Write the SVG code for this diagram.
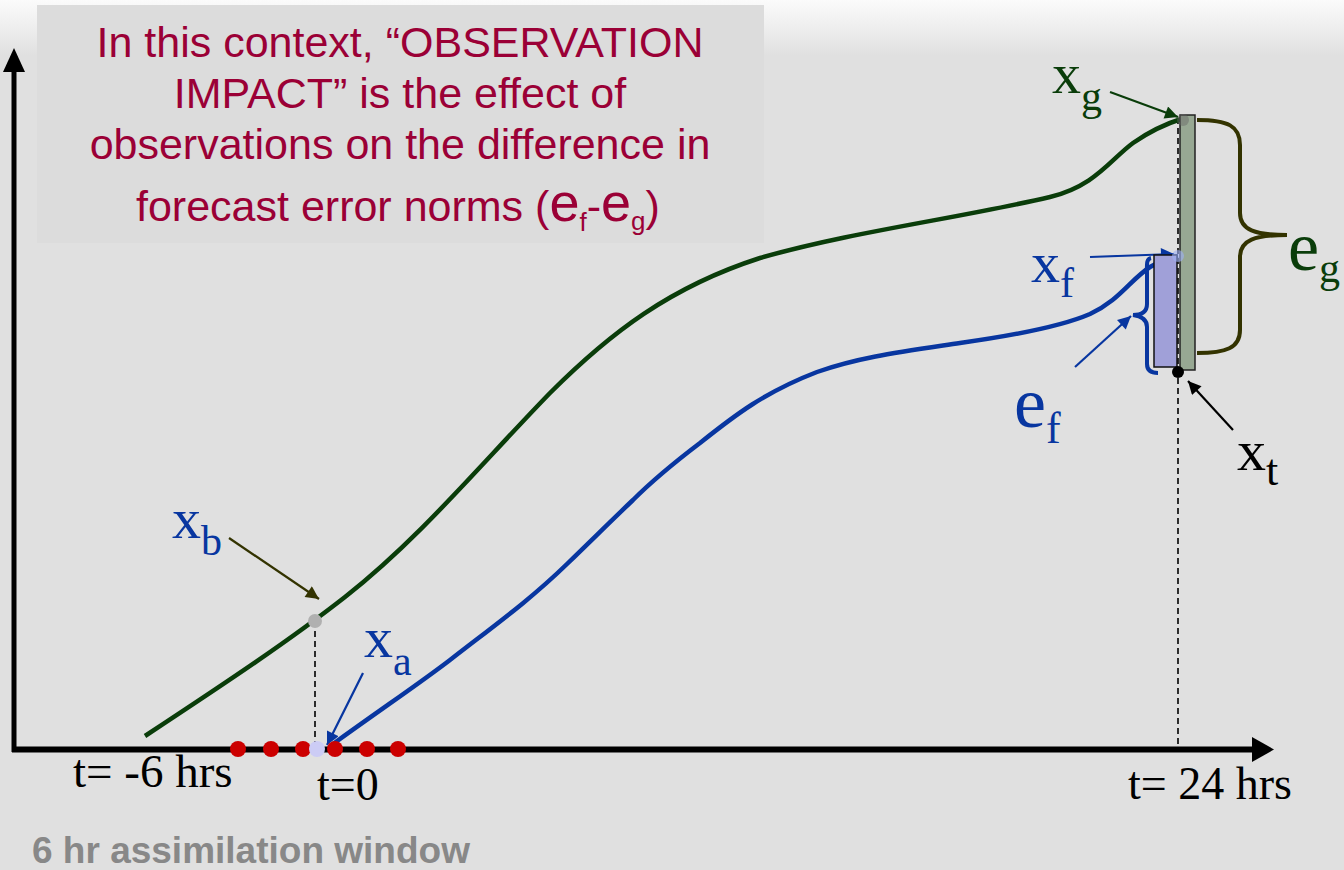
<svg xmlns="http://www.w3.org/2000/svg" width="1344" height="870" viewBox="0 0 1344 870">
<defs>
<linearGradient id="bg" x1="0" y1="0" x2="0" y2="1">
<stop offset="0" stop-color="#fbfbfb"/>
<stop offset="1" stop-color="#e0e0e0"/>
</linearGradient>
<marker id="aBlue" viewBox="0 0 10 10" refX="10" refY="5" markerUnits="userSpaceOnUse" markerWidth="16" markerHeight="13" orient="auto"><path d="M0,0 L10,5 L0,10 z" fill="#0836a0"/></marker>
<marker id="aGreen" viewBox="0 0 10 10" refX="10" refY="5" markerUnits="userSpaceOnUse" markerWidth="16" markerHeight="13" orient="auto"><path d="M0,0 L10,5 L0,10 z" fill="#0a3d0a"/></marker>
<marker id="aOlive" viewBox="0 0 10 10" refX="10" refY="5" markerUnits="userSpaceOnUse" markerWidth="16" markerHeight="13" orient="auto"><path d="M0,0 L10,5 L0,10 z" fill="#333300"/></marker>
<marker id="aBlack" viewBox="0 0 10 10" refX="10" refY="5" markerUnits="userSpaceOnUse" markerWidth="16" markerHeight="13" orient="auto"><path d="M0,0 L10,5 L0,10 z" fill="#000"/></marker>
</defs>
<style>
.serif{font-family:"Liberation Serif","Times New Roman",serif}
.note{font-family:"Liberation Sans",Arial,sans-serif;font-size:43px;fill:#9b0036}
.blue{fill:#0836a0}
.green{fill:#0a3d0a}
.dash{stroke:#000;stroke-width:1.6;stroke-dasharray:6,4;fill:none}
.ptr{fill:none;stroke-width:2.2}
.dot{fill:#cc0000}
</style>
<rect x="0" y="0" width="1344" height="870" fill="#e0e0e0"/>
<rect x="0" y="0" width="1344" height="56" fill="url(#bg)"/>

<g id="note">
<rect x="37" y="5" width="727" height="238" fill="#dcdcdc"/>
<text class="note" text-anchor="middle" x="400" y="57">In this context, “OBSERVATION</text>
<text class="note" text-anchor="middle" x="400" y="108">IMPACT” is the effect of</text>
<text class="note" text-anchor="middle" x="400" y="159">observations on the difference in</text>
<text class="note" x="136" y="221">forecast error norms (<tspan font-size="54">e</tspan><tspan font-size="26" dy="10">f</tspan><tspan dy="-10">-</tspan><tspan font-size="54">e</tspan><tspan font-size="26" dy="9">g</tspan><tspan dy="-9">)</tspan></text>
</g>

<g id="axes">
<line x1="14" y1="70" x2="14" y2="752" stroke="#000" stroke-width="5"/>
<polygon points="14,48 25,72 3,72" fill="#000"/>
<line x1="12" y1="749.5" x2="1254" y2="749.5" stroke="#000" stroke-width="6"/>
<polygon points="1274,749.5 1252,737 1252,762" fill="#000"/>
</g>

<g id="connectors">
<line class="dash" x1="315" y1="621" x2="315" y2="746"/>
<line class="dash" x1="1178" y1="118" x2="1178" y2="746"/>
<path id="xg-curve" d="M145,736 C230,680 290,640 345,597 C420,538 480,465 550,393 C610,333 670,287 760,258 C850,232 960,218 1050,197 C1095,186 1110,160 1133,143 C1150,131 1165,124 1184,118" fill="none" stroke="#0a3d0a" stroke-width="4.5"/>
<path id="xf-curve" d="M333,744 C390,703 420,683 450,660 C495,625 530,600 567,564 C600,532 610,522 633,500 C655,478 675,462 700,443 C735,415 765,392 817,372 C860,357 900,352 960,343 C1010,336 1060,327 1090,314 C1120,300 1130,280 1150,267 C1160,261 1168,258 1178,256" fill="none" stroke="#0836a0" stroke-width="4.5"/>
<line class="ptr" x1="229" y1="538" x2="319" y2="599" stroke="#333300" marker-end="url(#aOlive)"/>
<line class="ptr" x1="363" y1="673" x2="327" y2="745" stroke="#0836a0" marker-end="url(#aBlue)"/>
<line class="ptr" x1="1110" y1="92" x2="1178" y2="117" stroke="#0a3d0a" stroke-width="2.6" marker-end="url(#aGreen)"/>
<line class="ptr" x1="1090" y1="257" x2="1174" y2="254" stroke="#0836a0" marker-end="url(#aBlue)"/>
<line class="ptr" x1="1075" y1="367" x2="1131" y2="316" stroke="#0836a0" marker-end="url(#aBlue)"/>
<line class="ptr" x1="1233" y1="430" x2="1188" y2="381" stroke="#000" marker-end="url(#aBlack)"/>
</g>

<g id="bars">
<rect x="1180" y="115" width="15" height="255" fill="#97a893" stroke="#222" stroke-width="1.5"/>
<rect x="1154" y="255" width="23" height="112" fill="#a0a0d8" stroke="#111" stroke-width="1.5"/>
<circle cx="1183" cy="120" r="6" fill="#666" opacity="0.45"/>
<circle cx="1178" cy="256" r="6" fill="#9fb0f5" opacity="0.6"/>
<circle cx="1178" cy="372" r="6" fill="#000"/>
<path id="ef-brace" d="M1151,258 C1146,259 1147,265 1147,274 L1147,304 C1147,312 1141,315 1133,315 C1141,316 1147,319 1147,327 L1147,364 C1147,371 1152,373 1158,373" fill="none" stroke="#0836a0" stroke-width="4"/>
<path id="eg-brace" d="M1197,120 C1228,120 1240,126 1240,145 L1240,213 C1240,230 1255,235 1287,235 C1255,235 1240,240 1240,257 L1240,330 C1240,348 1226,353 1197,353" fill="none" stroke="#333300" stroke-width="4"/>
</g>

<g id="observations">
<circle class="dot" cx="238" cy="749" r="8"/>
<circle class="dot" cx="271" cy="749" r="8"/>
<circle class="dot" cx="303" cy="749" r="8"/>
<circle cx="317" cy="749" r="8" fill="#ccccf5"/>
<circle class="dot" cx="335" cy="749" r="8"/>
<circle class="dot" cx="367" cy="749" r="8"/>
<circle class="dot" cx="398" cy="749" r="8"/>
<circle cx="315" cy="621" r="7" fill="#b0b0b0"/>
</g>

<g id="labels">
<text class="serif blue" x="172" y="538" font-size="58">x<tspan font-size="42" dy="17">b</tspan></text>
<text class="serif blue" x="364" y="657" font-size="58">x<tspan font-size="42" dy="18">a</tspan></text>
<text class="serif green" x="1052" y="93" font-size="58">x<tspan font-size="42" dy="17">g</tspan></text>
<text class="serif blue" x="1031" y="282" font-size="58">x<tspan font-size="42" dy="15">f</tspan></text>
<text class="serif blue" x="1014" y="427" font-size="72">e<tspan font-size="44" dy="16">f</tspan></text>
<text class="serif green" x="1288" y="270" font-size="70">e<tspan font-size="42" dy="12">g</tspan></text>
<text class="serif" x="1237" y="470" font-size="58">x<tspan font-size="44" dy="15">t</tspan></text>
<text class="serif" x="73" y="787" font-size="47">t= -6 hrs</text>
<text class="serif" x="317" y="800" font-size="46">t=0</text>
<text class="serif" x="1128" y="799" font-size="46">t= 24 hrs</text>
<text x="32" y="863" font-family="'Liberation Sans',Arial,sans-serif" font-weight="bold" font-size="37" fill="#888">6 hr assimilation window</text>
</g>
</svg>
